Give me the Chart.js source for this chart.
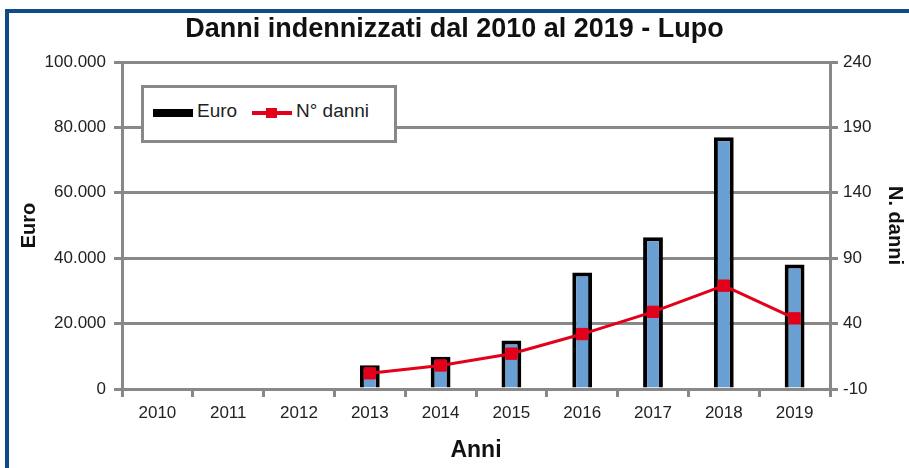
<!DOCTYPE html>
<html>
<head>
<meta charset="utf-8">
<script src="https://cdn.jsdelivr.net/npm/chart.js@4"></script>
<style>
  body { margin: 0; background: #fff; }
  #wrap { position: relative; width: 909px; height: 468px; }
  #frame { position: absolute; left: 5px; top: 9px; width: 920px; height: 480px;
           border-left: 4px solid #0f4c85; border-top: 4px solid #0f4c85; box-sizing: border-box; }
  #legenda { position: absolute; left: 141px; top: 85px; width: 256px; height: 58px;
             border: 3px solid #888; background: #fff; box-sizing: border-box;
             font: 19px "Liberation Sans", Arial, sans-serif; color: #222; }
  #legenda .sw { position: absolute; }
  #legenda span.t { position: absolute; top: 12px; }
</style>
</head>
<body>
<div id="wrap">
  <canvas id="grafico" width="909" height="468"></canvas>
  <div id="frame"></div>
  <div id="legenda">
    <div class="sw" style="left:9px;top:21px;width:40px;height:8px;background:#000"></div>
    <span class="t" style="left:53px">Euro</span>
    <div class="sw" style="left:108px;top:23px;width:40px;height:4px;background:#e2001a"></div>
    <div class="sw" style="left:122px;top:20px;width:11px;height:10px;background:#e2001a"></div>
    <span class="t" style="left:152px">N° danni</span>
  </div>
</div>
<script>
// Dati
const anni = ['2010', '2011', '2012', '2013', '2014', '2015', '2016', '2017', '2018', '2019'];
const euro = [null, null, null, 7300, 9900, 14800, 35600, 46400, 77000, 38100];
const nDanni = [null, null, null, 2, 8, 17, 32, 49, 69, 44];
const tickEuro = [0, 20000, 40000, 60000, 80000, 100000];
const tickDanni = [-10, 40, 90, 140, 190, 240];

const grigio = '#888888';
const fontTick = { family: '"Liberation Sans", Arial, sans-serif', size: 17 };

function formatoIt(v) {
    return String(v).replace(/\B(?=(\d{3})+(?!\d))/g, '.');
}

const ctx = document.getElementById('grafico').getContext('2d');
const grafico = new Chart(ctx, {
    type: 'bar',
    data: {
        labels: anni,
        datasets: [{
            type: 'line',
            label: 'N° danni',
            data: nDanni,
            yAxisID: 'y1',
            borderColor: '#e2001a',
            backgroundColor: '#e2001a',
            borderWidth: 3,
            pointStyle: 'rect',
            pointRadius: 8,
            pointBorderWidth: 1,
            tension: 0,
            order: 0
        }, {
            label: 'Euro',
            data: euro,
            yAxisID: 'y',
            backgroundColor: '#6a9fd3',
            borderColor: '#000000',
            borderWidth: 4,
            barPercentage: 0.28,
            categoryPercentage: 1,
            order: 1
        }]
    },
    options: {
        responsive: false,
        animation: false,
        layout: { padding: 0 },
        plugins: {
            legend: { display: false },
            tooltip: { enabled: false },
            title: {
                display: true,
                text: 'Danni indennizzati dal 2010 al 2019 - Lupo',
                color: '#111',
                font: { family: '"Liberation Sans", Arial, sans-serif', size: 27, weight: 'bold' },
                padding: { top: 13, bottom: 16.6 }
            }
        },
        scales: {
            x: {
                grid: { offset: true, drawOnChartArea: false, color: grigio, lineWidth: 3, tickLength: 8 },
                border: { color: grigio, width: 3 },
                ticks: { color: '#222', font: fontTick, padding: 6, maxRotation: 0 },
                title: {
                    display: true, text: 'Anni', color: '#111',
                    font: { family: '"Liberation Sans", Arial, sans-serif', size: 23, weight: 'bold' },
                    padding: { top: 0, bottom: 4 }
                },
                afterFit: s => { s.height = 79; }
            },
            y: {
                position: 'left',
                min: 0, max: 100000,
                afterBuildTicks: s => { s.ticks = tickEuro.map(v => ({ value: v })); },
                grid: { color: grigio, lineWidth: 3, tickLength: 8 },
                border: { color: grigio, width: 3 },
                ticks: { color: '#222', font: fontTick, padding: 8, callback: v => formatoIt(v) },
                title: {
                    display: true, text: 'Euro', color: '#111',
                    font: { family: '"Liberation Sans", Arial, sans-serif', size: 20, weight: 'bold' },
                    padding: { top: 17, bottom: 0 }
                },
                afterFit: s => { s.width = 122; }
            },
            y1: {
                position: 'right',
                min: -10, max: 240,
                afterBuildTicks: s => { s.ticks = tickDanni.map(v => ({ value: v })); },
                grid: { drawOnChartArea: false, color: grigio, lineWidth: 3, tickLength: 8 },
                border: { color: grigio, width: 3 },
                ticks: { color: '#222', font: fontTick, padding: 5 },
                title: {
                    display: true, text: 'N. danni', color: '#111',
                    font: { family: '"Liberation Sans", Arial, sans-serif', size: 20, weight: 'bold' },
                    padding: { top: 2, bottom: 0 }
                },
                afterFit: s => { s.width = 79; }
            }
        }
    }
});
</script>
</body>
</html>
